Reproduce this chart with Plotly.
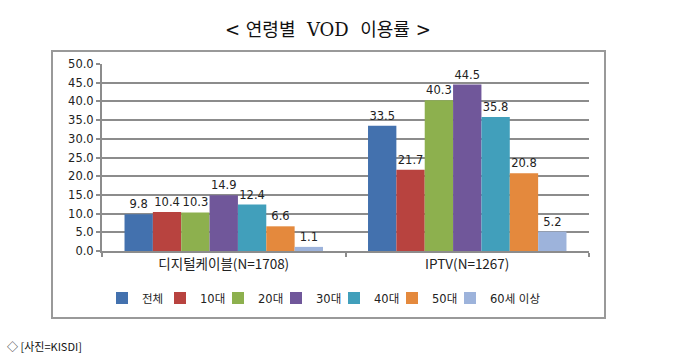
import plotly.graph_objects as go

categories = ["디지털케이블(N=1708)", "IPTV(N=1267)"]
series_names = ["전체", "10대", "20대", "30대", "40대", "50대", "60세 이상"]
series_values = [
    [9.8, 33.5],
    [10.4, 21.7],
    [10.3, 40.3],
    [14.9, 44.5],
    [12.4, 35.8],
    [6.6, 20.8],
    [1.1, 5.2],
]
colors = ["#4371AE", "#B8433F", "#8DB04E", "#70579A", "#419FBB", "#E4893D", "#9DB3DB"]
y_ticks = [0, 5, 10, 15, 20, 25, 30, 35, 40, 45, 50]

W, H = 680, 359
L, R, T, B = 102, 589, 64, 251
pw, ph = R - L, B - T

def px(x):
    return (x - L) / pw

def py(y):
    return (B - y) / ph

FONT = "DejaVu Sans, Noto Sans CJK KR, sans-serif"

fig = go.Figure()
for name, vals, c in zip(series_names, series_values, colors):
    fig.add_trace(go.Bar(
        name=name, x=categories, y=vals, marker=dict(color=c, line=dict(width=0)),
        text=[f"{v:.1f}" for v in vals], textposition="outside",
        textfont=dict(size=11.5, color="#222", family=FONT),
        constraintext="none", cliponaxis=False,
    ))
# spacer legend entry (no data) so the last legend label is not clipped
fig.add_trace(go.Scatter(x=[None], y=[None], mode="markers", name=" ",
                         marker=dict(opacity=0, size=1), hoverinfo="skip"))

fig.update_layout(
    width=W, height=H,
    margin=dict(l=L, r=W - R, t=T, b=H - B, pad=0),
    paper_bgcolor="white", plot_bgcolor="white",
    barmode="group", bargap=0.185, bargroupgap=0,
    font=dict(family=FONT, size=11.5, color="#222"),
    showlegend=True,
    legend=dict(orientation="h", x=px(102), xanchor="left", y=py(298), yanchor="middle",
                font=dict(size=11.5, family=FONT), itemwidth=30, traceorder="normal",
                entrywidth=13, entrywidthmode="pixels", bgcolor="rgba(0,0,0,0)"),
    xaxis=dict(showline=True, linecolor="#8c8c8c", linewidth=2, ticks="outside",
               tickson="boundaries", ticklen=4, tickcolor="#8c8c8c", tickwidth=2,
               tickfont=dict(size=13.5, family="Noto Sans CJK KR, DejaVu Sans", color="#222"),
               showgrid=False),
    yaxis=dict(range=[0, 50], tickvals=y_ticks, ticktext=[f"{v:.1f}" for v in y_ticks],
               showline=True, linecolor="#8c8c8c", linewidth=2, ticks="outside",
               ticklen=4, tickcolor="#8c8c8c", tickwidth=2, showgrid=True,
               gridcolor="#8c8c8c", gridwidth=2, zeroline=False,
               tickfont=dict(size=11.5, family=FONT, color="#222")),
)

fig.add_shape(type="rect", xref="paper", yref="paper",
              x0=px(52), x1=px(605), y0=py(318), y1=py(51),
              line=dict(color="#999", width=2), fillcolor="rgba(0,0,0,0)", layer="below")

fig.add_annotation(text="< 연령별  VOD  이용률 >", xref="paper", yref="paper",
                   x=px(328), y=py(30), xanchor="center", yanchor="middle", showarrow=False,
                   font=dict(size=18, family="DejaVu Serif, Noto Sans CJK KR", color="#111"))
fig.add_annotation(text="◇ [사진=KISDI]", xref="paper", yref="paper",
                   x=px(5), y=py(346), xanchor="left", yanchor="middle", showarrow=False,
                   font=dict(size=11, family="Noto Sans CJK KR, DejaVu Sans", color="#111"))

fig.write_html("out.html", config={"displayModeBar": False},
               post_script="document.body.style.margin='0';")
